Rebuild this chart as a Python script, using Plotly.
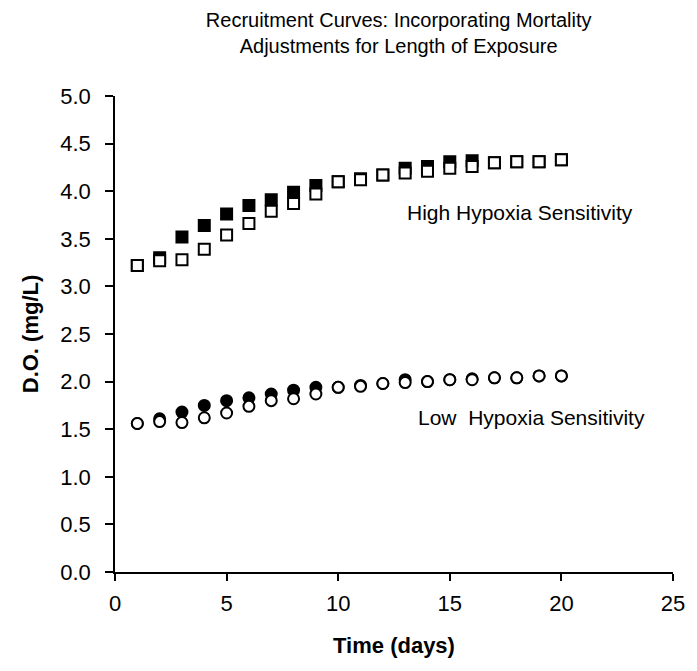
import plotly.graph_objects as go

days = list(range(1, 21))

high_adjusted = [3.22, 3.30, 3.52, 3.64, 3.76, 3.85, 3.91, 3.99, 4.06, 4.10,
                 4.13, 4.17, 4.24, 4.26, 4.31, 4.32, 4.30, 4.31, 4.31, 4.33]
high_base = [3.22, 3.27, 3.28, 3.39, 3.54, 3.66, 3.79, 3.87, 3.97, 4.10,
             4.12, 4.17, 4.19, 4.21, 4.24, 4.26, 4.30, 4.31, 4.31, 4.33]

low_adjusted = [1.56, 1.61, 1.68, 1.75, 1.80, 1.83, 1.87, 1.91, 1.94, 1.94,
                1.96, 1.98, 2.02, 2.00, 2.02, 2.03, 2.04, 2.04, 2.06, 2.06]
low_base = [1.56, 1.58, 1.57, 1.62, 1.67, 1.74, 1.80, 1.82, 1.87, 1.94,
            1.95, 1.98, 1.99, 2.00, 2.02, 2.02, 2.04, 2.04, 2.06, 2.06]

title_text = "Recruitment Curves: Incorporating Mortality<br>Adjustments for Length of Exposure"
high_label = "High Hypoxia Sensitivity"
low_label = "Low\u00a0 Hypoxia Sensitivity"

FONT = "Liberation Sans, Arial, sans-serif"

fig = go.Figure()

def add(y, symbol, filled):
    fig.add_trace(go.Scatter(
        x=days, y=y, mode="markers",
        marker=dict(symbol=symbol, size=11,
                    color="black" if filled else "white",
                    line=dict(color="black", width=2)),
        showlegend=False, hoverinfo="x+y"))

add(high_adjusted, "square", True)
add(high_base, "square", False)
add(low_adjusted, "circle", True)
add(low_base, "circle", False)

fig.add_annotation(x=13.0, y=3.78, xref="x", yref="y", text=high_label,
                   showarrow=False, xanchor="left", yanchor="middle",
                   font=dict(family=FONT, size=21, color="black"))
fig.add_annotation(x=13.5, y=1.625, xref="x", yref="y", text=low_label,
                   showarrow=False, xanchor="left", yanchor="middle",
                   font=dict(family=FONT, size=21, color="black"))

fig.update_layout(
    width=697, height=671,
    margin=dict(l=115, r=15, t=96, b=99),
    paper_bgcolor="white", plot_bgcolor="white",
    font=dict(family=FONT, size=22, color="black"),
    title=dict(text=title_text, x=0.572, xanchor="center", y=0.96, yanchor="top",
               font=dict(family=FONT, size=20, color="black")),
)
fig.update_xaxes(range=[0, 25], dtick=5, tick0=0, showgrid=False, zeroline=False,
                 showline=True, linecolor="black", linewidth=1.5,
                 ticks="outside", ticklen=7, tickwidth=1.5, tickcolor="black",
                 ticklabelstandoff=4,
                 title=dict(text="<b>Time (days)</b>", font=dict(family=FONT, size=22), standoff=22))
fig.update_yaxes(range=[0, 5], dtick=0.5, tick0=0, tickformat=".1f", showgrid=False, zeroline=False,
                 showline=True, linecolor="black", linewidth=1.5,
                 ticks="outside", ticklen=8, tickwidth=1.5, tickcolor="black",
                 ticklabelstandoff=10,
                 title=dict(text="<b>D.O. (mg/L)</b>", font=dict(family=FONT, size=22), standoff=16))

fig.write_html("out.html")
